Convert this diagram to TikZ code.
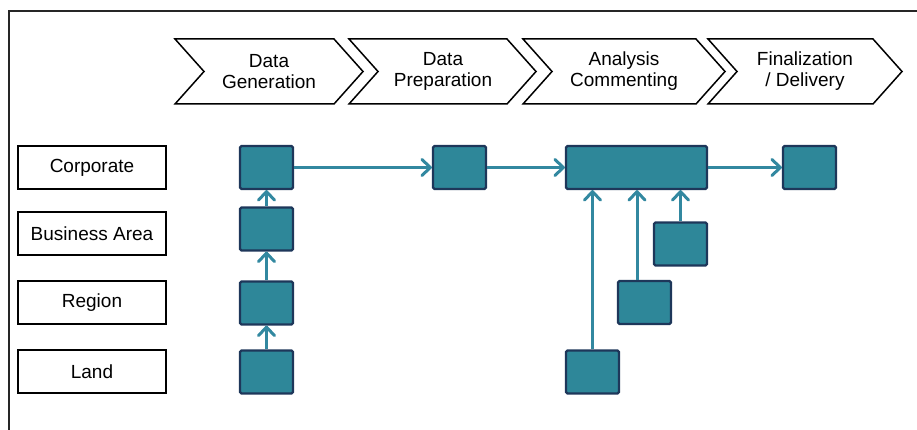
\documentclass[tikz,border=0pt]{standalone}
\usepackage{fontspec}
\setmainfont{Liberation Sans}
\usetikzlibrary{arrows.meta}
\definecolor{boxfill}{RGB}{46,135,153}
\definecolor{boxedge}{RGB}{30,55,90}
\definecolor{flow}{RGB}{50,136,160}
\newcommand\phasechevron[2]{%
  \draw[phase] (#1,39) -- (#2-29,39) -- (#2,71.5) -- (#2-29,104) -- (#1,104) -- (#1+29,71.5) -- cycle;}
\begin{document}
\begin{tikzpicture}[x=1pt,y=-1pt,
  every node/.style={font=\fontsize{19}{21}\selectfont, align=center},
  level/.style={draw=black, line width=1.2pt, minimum width=148pt, minimum height=43pt, inner sep=0pt},
  task/.style={draw=boxedge, fill=boxfill, line width=2.2pt, rounded corners=1.5pt,
               minimum width=53pt, minimum height=43pt, inner sep=0pt},
  flowarrow/.style={draw=flow, line width=3pt,
                    -{Straight Barb[length=8.5pt,width=16pt,round]}},
  phase/.style={draw=black, line width=1.5pt, line join=miter, fill=white}]
\useasboundingbox (0,0) rectangle (917,430);

% frame (top and left edges)
\draw[line width=1.2pt, black!85] (9,430) -- (9,11) -- (917,11);

% process chevrons
\phasechevron{175}{363}
\phasechevron{349}{536}
\phasechevron{523}{725}
\phasechevron{708}{902}
\node (ph1) at (269,71.5) {Data\\Generation};
\node (ph2) at (443,71.5) {Data\\Preparation};
\node (ph3) at (624,71.5) {Analysis\\Commenting};
\node (ph4) at (805,71.5) {Finalization\\/ Delivery};

% organisational levels
\node[level] (corp) at (92,167.5) {Corporate};
\node[level] (barea) at (92,233.5) {Business Area};
\node[level] (region) at (92,302.5) {Region};
\node[level] (land) at (92,371.5) {Land};

% data generation column
\node[task] (g1) at (266.5,167.5) {};
\node[task] (g2) at (266.5,229) {};
\node[task] (g3) at (266.5,303) {};
\node[task] (g4) at (266.5,372) {};

% preparation, analysis, delivery
\node[task] (prep) at (459.5,167.5) {};
\node[task, minimum width=141pt] (wide) at (636.5,167.5) {};
\node[task] (fin) at (809.5,167.5) {};
\node[task] (a1) at (680.5,244) {};
\node[task] (a2) at (644.5,302.5) {};
\node[task] (a3) at (592.5,372) {};

% connectors
\draw[flowarrow] (g4.north) -- (g3.south);
\draw[flowarrow] (g3.north) -- (g2.south);
\draw[flowarrow] (g2.north) -- (g1.south);
\draw[flowarrow] (g1.east) -- (prep.west);
\draw[flowarrow] (prep.east) -- (wide.west);
\draw[flowarrow] (wide.east) -- (fin.west);
\path (a2.north) ++(-7.5,0) coordinate (a2tap);
\draw[flowarrow] (a3.north) -- (a3.north |- wide.south);
\draw[flowarrow] (a2tap) -- (a2tap |- wide.south);
\draw[flowarrow] (a1.north) -- (a1.north |- wide.south);
\end{tikzpicture}
\end{document}
